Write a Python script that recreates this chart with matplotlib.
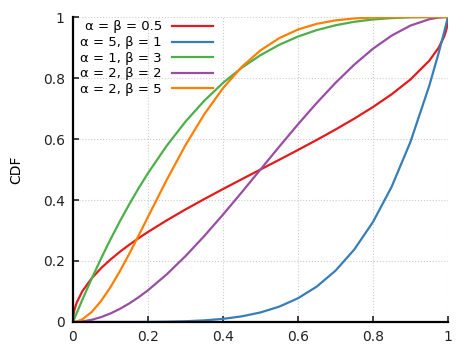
import matplotlib
matplotlib.use('Agg')
import matplotlib.pyplot as plt

# x positions where the curves were read
x = [0, 0.001, 0.003, 0.005, 0.01, 0.025, 0.05, 0.075, 0.1, 0.125, 0.15, 0.175, 0.2,
     0.25, 0.3, 0.35, 0.4, 0.45, 0.5, 0.55, 0.6, 0.65, 0.7, 0.75, 0.8, 0.85, 0.9,
     0.95, 0.975, 0.99, 0.995, 0.997, 0.999, 1]

cdf_half_half = [0, 0.0201, 0.0349, 0.0451, 0.0638, 0.1011, 0.1436, 0.1766, 0.2048,
                 0.2301, 0.2532, 0.2748, 0.2952, 0.3333, 0.3690, 0.4030, 0.4359, 0.4681,
                 0.5, 0.5319, 0.5641, 0.5970, 0.6310, 0.6667, 0.7048, 0.7468, 0.7952,
                 0.8564, 0.8989, 0.9362, 0.9550, 0.9651, 0.9799, 1]
cdf_5_1 = [0, 0, 0, 0, 0, 0, 0, 0, 0.00001, 0.00003, 0.00008, 0.00016, 0.00032,
           0.00098, 0.00243, 0.00525, 0.01024, 0.01845, 0.03125, 0.05033, 0.07776,
           0.11603, 0.16807, 0.2373, 0.32768, 0.44371, 0.59049, 0.77378, 0.8811,
           0.95099, 0.97525, 0.98509, 0.995, 1]
cdf_1_3 = [0, 0.003, 0.009, 0.0149, 0.0297, 0.0731, 0.1426, 0.2086, 0.271, 0.3301,
           0.3859, 0.4385, 0.488, 0.5781, 0.657, 0.7254, 0.784, 0.8336, 0.875, 0.9089,
           0.936, 0.9571, 0.973, 0.9844, 0.992, 0.9966, 0.999, 0.9999, 1, 1, 1, 1, 1, 1]
cdf_2_2 = [0, 0, 0.00003, 0.00008, 0.0003, 0.00184, 0.00725, 0.01603, 0.028, 0.04297,
           0.06075, 0.08116, 0.104, 0.15625, 0.216, 0.28175, 0.352, 0.42525, 0.5,
           0.57475, 0.648, 0.71825, 0.784, 0.84375, 0.896, 0.93925, 0.972, 0.99275,
           0.99816, 0.9997, 0.99993, 0.99997, 1, 1]
cdf_2_5 = [0, 0.00002, 0.00013, 0.00037, 0.00146, 0.00877, 0.03278, 0.06887, 0.11427,
           0.16652, 0.22351, 0.28341, 0.34464, 0.46606, 0.57982, 0.68092, 0.76672,
           0.83643, 0.89063, 0.93081, 0.95904, 0.97768, 0.98906, 0.99536, 0.9984,
           0.9996, 0.99995, 1, 1, 1, 1, 1, 1, 1]

series = [cdf_half_half, cdf_5_1, cdf_1_3, cdf_2_2, cdf_2_5]
labels = ['α = β = 0.5', 'α = 5, β = 1', 'α = 1, β = 3', 'α = 2, β = 2', 'α = 2, β = 5']
colors = ['#e41a1c', '#377eb8', '#4daf4a', '#984ea3', '#ff7f00']

fig = plt.figure(figsize=(4.74, 3.55), dpi=100)
ax = fig.add_axes([0.154, 0.093, 0.791, 0.859])

for ys, lab, col in zip(series, labels, colors):
    ax.plot(x, ys, color=col, lw=1.6, label=lab)

ax.set_xlim(0, 1)
ax.set_ylim(0, 1)
ticks = [0, 0.2, 0.4, 0.6, 0.8, 1]
tick_labels = ['0', '0.2', '0.4', '0.6', '0.8', '1']
ax.set_xticks(ticks, tick_labels)
ax.set_yticks(ticks, tick_labels)
ax.tick_params(direction='in', length=4, width=1.2, labelsize=10, colors='#222222', pad=6)
ax.grid(True, color='#cccccc', linestyle=':', lw=0.8)

ax.spines['top'].set_visible(False)
ax.spines['right'].set_visible(False)
ax.spines['left'].set_linewidth(1.6)
ax.spines['bottom'].set_linewidth(1.6)

ax.set_ylabel('CDF', fontsize=10, labelpad=14)

leg = ax.legend(loc='upper left', frameon=False, markerfirst=False, fontsize=9.5,
                handlelength=3.1, handletextpad=0.75, labelspacing=0.2,
                borderaxespad=0.0, bbox_to_anchor=(0.005, 1.006))
for t in leg.get_texts():
    t.set_ha('right')

fig.savefig('out.png', dpi=100)
